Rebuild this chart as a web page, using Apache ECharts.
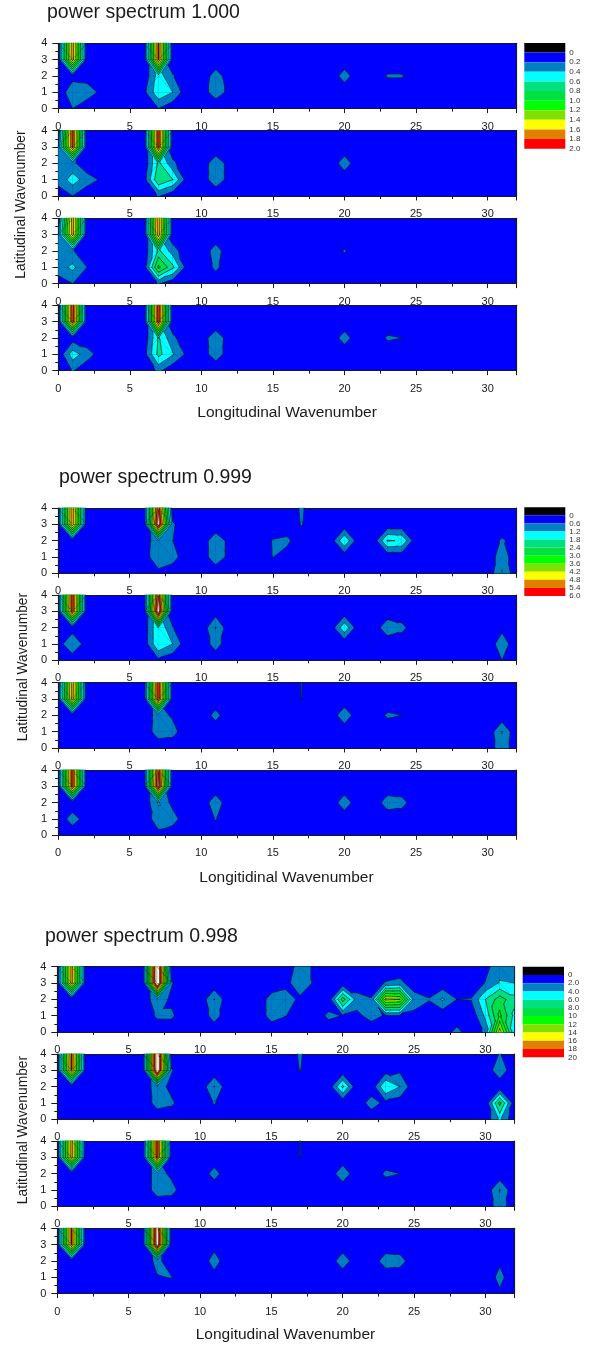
<!DOCTYPE html>
<html><head><meta charset="utf-8">
<style>html,body{margin:0;padding:0;background:#fff}#c{width:595px;height:1345px}</style>
<script src="https://cdn.jsdelivr.net/npm/echarts@6/dist/echarts.min.js"></script></head>
<body><div id="c"></div>
<script>
// Band colours, lowest contour interval first; above the top level is white.
const bandColors = ['#0000FF','#0080C0','#00FFFF','#00E080','#00E040','#00FF00','#80E000','#FFFF00','#E08000','#FF0000'];
const legendColors = ['#000000'].concat(bandColors);
const legend1Ticks = ['0','0.2','0.4','0.6','0.8','1.0','1.2','1.4','1.6','1.8','2.0'];
const legend2Ticks = ['0','0.6','1.2','1.8','2.4','3.0','3.6','4.2','4.8','5.4','6.0'];
const legend3Ticks = ['0','2.0','4.0','6.0','8.0','10','12','14','16','18','20'];
const xTicks = [0,5,10,15,20,25,30];
const xMax = 32, yMax = 4;
const set1Step = 0.2, set2Step = 0.6, set3Step = 2;
const set1Background = 0.05, set2Background = 0.15, set3Background = 0.5;

// Spectrum values: [longitudinal, latitudinal, power]; anything unlisted is the background.
const s1p1 = [[1,4,1.72],[1,3,1.7],[1,2,0.12],[1,1,0.35],[1,0,0.2],[2,1,0.32],[3,1,0.15],[2,2,0.1],
 [7,4,1.82],[7,3,1.8],[7,2,0.5],[7,1,0.55],[7,0,0.2],[6,1,0.15],[8,1,0.4],[8,2,0.22],
 [11,2,0.3],[11,1,0.3],[10,1,0.1],[12,1,0.14],[12,2,0.08],[20,2,0.3],[23,2,0.22],[24,2,0.22]];
const s1p2 = [[1,4,1.87],[1,3,1.85],[1,2,0.25],[1,1,0.5],[1,0,0.2],[0,3,0.2],[0,2,0.25],[0,1,0.25],[0,0,0.12],[2,1,0.3],[3,1,0.17],
 [7,4,1.9],[7,3,1.88],[7,2,0.65],[7,1,0.78],[7,0,0.22],[6,1,0.12],[8,1,0.6],[9,1,0.1],[8,2,0.25],
 [11,2,0.32],[11,1,0.32],[10,1,0.08],[10,2,0.08],[12,1,0.12],[12,2,0.12],[20,2,0.32]];
const s1p3 = [[1,4,1.72],[1,3,1.7],[1,2,0.22],[1,1,0.45],[1,0,0.2],[0,3,0.2],[0,2,0.3],[0,1,0.3],[0,0,0.1],[2,1,0.2],
 [7,4,1.78],[7,3,1.75],[7,2,0.65],[7,1,1.05],[7,0,0.22],[6,1,0.1],[8,1,0.65],[9,1,0.1],[8,2,0.3],
 [11,2,0.3],[11,1,0.25],[20,2,0.22]];
const s1p4 = [[1,4,1.92],[1,3,1.9],[1,2,0.1],[1,1,0.5],[1,0,0.22],[2,1,0.3],[3,1,0.1],
 [7,4,1.92],[7,3,1.9],[7,2,0.62],[7,1,0.66],[7,0,0.25],[6,1,0.12],[8,1,0.42],[9,1,0.15],[8,2,0.25],
 [11,2,0.32],[11,1,0.3],[10,1,0.1],[10,2,0.1],[12,1,0.1],[12,2,0.1],[20,2,0.3],[23,2,0.23],[24,2,0.2]];

const s2p1 = [[1,4,5.3],[1,3,5.3],[1,1,0.61],
 [7,4,5.9],[7,3,6.5],[7,2,1.1],[7,1,1.1],[7,0,0.4],[6,1,0.25],[8,1,0.9],[8,2,0.62],[8,3,0.7],
 [11,2,1.0],[11,1,1.0],[10,1,0.2],[10,2,0.2],[12,1,0.4],[12,2,0.4],
 [15,2,0.65],[15,1,0.62],[16,2,0.75],[16,1,0.3],[17,4,0.7],[17,3,0.65],
 [20,2,1.75],[23,2,1.85],[24,2,1.75],[31,2,0.7],[31,1,1.0],[31,0,1.25],[32,2,0.3]];
const s2p2 = [[1,4,5.8],[1,3,5.75],[1,2,0.3],[1,1,1.15],[1,0,0.2],[0,1,0.3],[2,1,0.3],
 [7,4,5.95],[7,3,6.6],[7,2,1.75],[7,1,1.75],[7,0,0.45],[6,1,0.2],[6,2,0.2],[8,1,1.2],[8,2,0.65],
 [11,3,0.3],[11,2,1.22],[11,1,0.9],[20,2,1.65],[22,1,0.61],
 [23,2,1.05],[24,2,0.8],[31,2,0.4],[31,1,1.0],[31,0,0.6]];
const s2p3 = [[1,4,5.2],[1,3,5.15],
 [7,4,5.85],[7,3,5.8],[7,2,0.9],[7,1,0.95],[8,1,0.85],[8,2,0.5],
 [11,2,0.82],[17,4,0.62],[17,3,0.61],[20,2,1.05],[23,2,0.7],[24,2,0.6],[31,1,1.22],[31,0,1.05]];
const s2p4 = [[1,4,5.7],[1,3,5.7],[1,1,0.9],[2,1,0.3],
 [7,4,5.95],[7,3,6.25],[7,2,1.25],[7,1,0.95],[7,0,0.4],[6,1,0.2],[8,1,0.9],[8,2,0.4],
 [11,2,1.0],[11,1,0.65],[20,2,1.0],[23,2,0.95],[24,2,0.85]];

const s3p1 = [[1,4,17],[1,3,17],
 [7,4,23.4],[7,3,23.4],[7,2,3.5],[7,1,2.4],[8,1,2.4],[8,2,1.5],[8,3,2.2],
 [11,2,4.02],[11,1,3],[15,2,2.9],[15,1,2.9],[16,3,1.2],[16,2,3.2],[16,1,2.1],[17,2,1.5],[17,3,3.6],[17,4,3],[18,3,1.7],[18,4,1.7],[19,1,2.5],[20,1,1.9],
 [20,2,9],[21,2,3],[21,1,1.5],[22,2,2.2],[22,1,2.8],[23,3,2.2],[23,2,14.5],[23,1,1.8],[24,3,2.6],[24,2,14],[24,1,1.8],
 [25,3,0.8],[25,2,3],[25,1,1.5],[26,2,2.2],[27,2,4.3],[28,2,2],[28,0,2.7],[29,3,0.8],[29,2,2.1],
 [30,4,1.5],[30,3,2.1],[30,2,6],[30,1,4.5],[30,0,2.5],[31,4,3],[31,3,4.2],[31,2,9],[31,1,10.5],[31,0,15],
 [32,4,3],[32,3,4],[32,2,6.7],[32,1,5.5],[32,0,4.5]];
const s3p2 = [[1,4,18.2],[1,3,18],
 [7,4,23],[7,3,23],[7,2,3.2],[7,1,2.9],[8,1,2.4],[8,2,1.3],[8,3,2.2],
 [11,2,4.02],[11,1,2.2],[17,4,2.3],[17,3,2.1],[20,2,6.4],[22,1,3],
 [23,3,1],[23,2,6],[23,1,1.4],[24,3,1.65],[24,2,4],[24,1,0.9],
 [31,4,2.2],[31,3,3.5],[31,1,8.6],[31,0,4.5],[32,1,1]];
const s3p3 = [[1,4,17],[1,3,17],
 [7,4,19.2],[7,3,19],[7,2,3],[7,1,3],[8,1,2.8],[8,2,1.5],
 [11,2,2.9],[17,4,2.05],[17,3,2.03],[20,2,3.5],[23,2,2.4],[24,2,2],[31,1,4.1],[31,0,3.3]];
const s3p4 = [[1,4,18],[1,3,18],
 [7,4,21.9],[7,3,21.9],[7,2,2.7],[7,1,1.85],[8,1,2.1],
 [11,3,1.2],[11,2,3],[11,1,1.2],[20,2,3.4],[23,2,3.2],[24,2,3],
 [31,2,1.6],[31,1,2.7],[31,0,1.6]];

const font = 'Liberation Sans';
const sets = [
 {title:'power spectrum 1.000', titleLeft:47, titleTop:3, step:set1Step, bg:set1Background, ticks:legend1Ticks,
  panels:[s1p1,s1p2,s1p3,s1p4], tops:[43.3,130.7,218.3,305.3], left:58.3, width:458, height:65.3,
  legend:{left:524.3,top:43,width:41,height:105.7}, xName:'Longitudinal Wavenumber', xNameY:413.7, xNameLeft:197.3, yNameY:204.5, yNameX:21},
 {title:'power spectrum 0.999', titleLeft:59, titleTop:468, step:set2Step, bg:set2Background, ticks:legend2Ticks,
  panels:[s2p1,s2p2,s2p3,s2p4], tops:[508,595,682.7,770], left:58,  width:458.3, height:65.3,
  legend:{left:524.3,top:507.3,width:41,height:88.7}, xName:'Longitidinal Wavenumber', xNameY:879, xNameLeft:199.3, yNameY:667, yNameX:23},
 {title:'power spectrum 0.998', titleLeft:45, titleTop:927, step:set3Step, bg:set3Background, ticks:legend3Ticks,
  panels:[s3p1,s3p2,s3p3,s3p4], tops:[966.7,1054,1141,1228.3], left:57.3, width:456.7, height:65.3,
  legend:{left:522.7,top:966.7,width:41.3,height:90.6}, xName:'Longitudinal Wavenumber', xNameY:1336, xNameLeft:195.7, yNameY:1130, yNameX:23}
];

function buildGrid(points, bg){
  const g=[]; for(let y=0;y<=yMax;y++){g.push(new Array(xMax+1).fill(bg));}
  points.forEach(p=>{g[p[1]][p[0]]=p[2];});
  return g;
}
function buildCells(points,bg){
  const g=buildGrid(points,bg), cells=[];
  for(let y=0;y<yMax;y++)for(let x=0;x<xMax;x++){
    cells.push([x,y,g[y][x],g[y][x+1],g[y+1][x+1],g[y+1][x]]);
  }
  return cells;
}
function triangles(x,y,a,b,c,d){
  const A=[x,y,a],B=[x+1,y,b],C=[x+1,y+1,c],D=[x,y+1,d];
  // split along the diagonal whose ends differ least
  if(Math.abs(a-c)<Math.abs(b-d)) return [[A,B,C],[A,C,D]];
  return [[A,B,D],[B,C,D]];
}
function lerp(p,q,L){const t=(L-p[2])/(q[2]-p[2]);return [p[0]+t*(q[0]-p[0]),p[1]+t*(q[1]-p[1]),L];}
function clip(poly,L,above){
  const out=[];
  for(let i=0;i<poly.length;i++){
    const p=poly[i],q=poly[(i+1)%poly.length];
    const pi=above?p[2]>=L:p[2]<=L, qi=above?q[2]>=L:q[2]<=L;
    if(pi)out.push(p);
    if(pi!==qi)out.push(lerp(p,q,L));
  }
  return out;
}
function cellTris(api){
  return triangles(api.value(0),api.value(1),api.value(2),api.value(3),api.value(4),api.value(5));
}
// Each band is painted over the one below it; the lowest band is the grid's own background.
function fillRenderer(step){
  return function(params,api){
    const children=[];
    cellTris(api).forEach(tri=>{
      for(let b=1;b<=bandColors.length;b++){
        const poly=clip(tri,b*step,true);
        if(poly.length<3)break;
        const col=b<bandColors.length?bandColors[b]:'#FFFFFF';
        children.push({type:'polygon',silent:true,shape:{points:poly.map(p=>api.coord([p[0],p[1]]))},
          style:{fill:col,stroke:col,lineWidth:0.3}});
      }
    });
    return {type:'group',children};
  };
}
function lineRenderer(step){
  return function(params,api){
    const children=[];
    cellTris(api).forEach(tri=>{
      for(let l=1;l<=bandColors.length;l++){
        const L=l*step, pts=[];
        for(let i=0;i<3;i++){
          const p=tri[i],q=tri[(i+1)%3];
          if((p[2]<L)!==(q[2]<L))pts.push(lerp(p,q,L));
        }
        if(pts.length===2){
          const a=api.coord([pts[0][0],pts[0][1]]),b=api.coord([pts[1][0],pts[1][1]]);
          children.push({type:'line',silent:true,shape:{x1:a[0],y1:a[1],x2:b[0],y2:b[1]},
            style:{stroke:'#000',lineWidth:0.55,lineCap:'round'}});
        }
      }
    });
    return {type:'group',children};
  };
}

const grid=[],xAxis=[],yAxis=[],series=[],titles=[],graphics=[];
const axisLine={show:true,onZero:false,lineStyle:{color:'#1a1a1a',width:1.2}};
const label={color:'#1a1a1a',fontFamily:font,fontSize:11};
sets.forEach(s=>{
  titles.push({text:s.title,left:s.titleLeft,top:s.titleTop,padding:0,
    textStyle:{fontFamily:font,fontSize:19.5,fontWeight:'normal',color:'#1a1a1a'}});
  s.panels.forEach((pts,i)=>{
    const gi=grid.length;
    grid.push({left:s.left,top:s.tops[i],width:s.width,height:s.height,show:true,backgroundColor:bandColors[0],borderWidth:0});
    const xi=xAxis.length, yi=yAxis.length;
    xAxis.push({type:'value',gridIndex:gi,min:0,max:xMax,interval:5,position:'bottom',axisLine,
      axisTick:{length:4.5,lineStyle:{color:'#1a1a1a',width:1}},
      minorTick:{show:true,splitNumber:2,length:3,lineStyle:{color:'#1a1a1a',width:1}},
      splitLine:{show:false},
      axisLabel:{...label,margin:12.5,customValues:xTicks}});
    xAxis.push({type:'value',gridIndex:gi,min:0,max:xMax,position:'top',axisLine,axisTick:{show:false},axisLabel:{show:false},splitLine:{show:false}});
    yAxis.push({type:'value',gridIndex:gi,min:0,max:yMax,interval:1,position:'left',axisLine,
      axisTick:{length:6,lineStyle:{color:'#1a1a1a',width:1}},
      minorTick:{show:true,splitNumber:2,length:3,lineStyle:{color:'#1a1a1a',width:1}},
      splitLine:{show:false},
      axisLabel:{...label,margin:11}});
    yAxis.push({type:'value',gridIndex:gi,min:0,max:yMax,position:'right',axisLine,axisTick:{show:false},axisLabel:{show:false},splitLine:{show:false}});
    const cells=buildCells(pts,s.bg);
    const common={type:'custom',coordinateSystem:'cartesian2d',xAxisIndex:xi,yAxisIndex:yi,data:cells,
      encode:{x:0,y:1},silent:true,animation:false,clip:false};
    series.push({...common,z:1,renderItem:fillRenderer(s.step)});
    series.push({...common,z:2,renderItem:lineRenderer(s.step)});
  });
  // colour scale
  const gi=grid.length, xi=xAxis.length, yi=yAxis.length, ticks=s.ticks;
  grid.push({left:s.legend.left,top:s.legend.top,width:s.legend.width,height:s.legend.height,show:false});
  xAxis.push({type:'value',gridIndex:gi,min:0,max:1,show:false});
  yAxis.push({type:'value',gridIndex:gi,min:0,max:legendColors.length,interval:1,inverse:true,position:'right',
    axisLine:{show:false},axisTick:{show:false},splitLine:{show:false},
    axisLabel:{color:'#333',fontFamily:font,fontSize:8,margin:4,showMaxLabel:true,hideOverlap:false,formatter:v=>v===0?'':ticks[v-1]}});
  series.push({type:'custom',coordinateSystem:'cartesian2d',xAxisIndex:xi,yAxisIndex:yi,silent:true,animation:false,
    data:legendColors.map((c,i)=>[i]),encode:{y:0},
    renderItem:(p,api)=>{
      const i=api.value(0),a=api.coord([0,i]),b=api.coord([1,i+1]);
      return {type:'rect',shape:{x:a[0],y:a[1],width:b[0]-a[0],height:b[1]-a[1]},style:{fill:legendColors[i]}};
    }});
  graphics.push({type:'text',left:s.xNameLeft,top:s.xNameY-9,silent:true,
    style:{text:s.xName,font:'15.5px "'+font+'"',fill:'#1a1a1a'}});
  graphics.push({type:'text',rotation:Math.PI/2,x:s.yNameX,y:s.yNameY,silent:true,
    style:{text:'Latitudinal Wavenumber',font:'13.8px "'+font+'"',fill:'#1a1a1a',align:'center',verticalAlign:'middle'}});
});
const chart=echarts.init(document.getElementById('c'),null,{renderer:'canvas',width:595,height:1345});
chart.setOption({animation:false,backgroundColor:'#fff',title:titles,grid,xAxis,yAxis,series,graphic:graphics,tooltip:{show:false}});
</script></body></html>
